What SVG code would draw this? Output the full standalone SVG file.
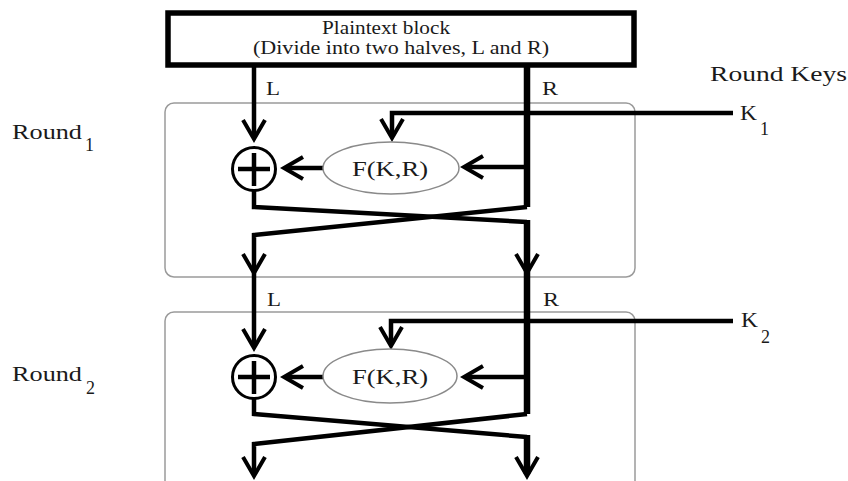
<svg xmlns="http://www.w3.org/2000/svg" width="848" height="481" viewBox="0 0 848 481">
<style>
.t{font-family:"Liberation Serif","Times New Roman",serif;fill:#1a1a1a}
.box{fill:none;stroke:#9a9a9a;stroke-width:1.5}
.ell{fill:#fff;stroke:#8a8a8a;stroke-width:1.5}
.ln{fill:none;stroke:#000;stroke-width:4.5;stroke-linejoin:miter}
.thick{fill:none;stroke:#000;stroke-width:6.5}
.arr{marker-end:url(#arr)}
.xc{fill:#fff;stroke:#000;stroke-width:3}
.xp{stroke:#000;stroke-width:4.5}
</style>
<defs>
<marker id="arr" markerUnits="userSpaceOnUse" viewBox="-24 -16 32 32" markerWidth="32" markerHeight="32" refX="0" refY="0" orient="auto" overflow="visible">
<path d="M-17,-11 L2,0 L-17,11" fill="none" stroke="#000" stroke-width="4"/>
</marker>
</defs>
<rect width="848" height="481" fill="#fff"/>

<g id="plaintext">
<rect x="168" y="13" width="466" height="52" fill="#fff" stroke="#000" stroke-width="5.5"/>
<text class="t" x="322" y="34" font-size="18" textLength="128" lengthAdjust="spacingAndGlyphs">Plaintext block</text>
<text class="t" x="253" y="54" font-size="18" textLength="296" lengthAdjust="spacingAndGlyphs">(Divide into two halves, L and R)</text>
</g>

<g id="round1">
<rect class="box" x="165" y="103" width="470" height="174" rx="9"/>
<text class="t" x="12" y="139" font-size="20" textLength="70" lengthAdjust="spacingAndGlyphs">Round</text>
<text class="t" x="85" y="151" font-size="18">1</text>
</g>
<g id="round2">
<rect class="box" x="165" y="312" width="470" height="190" rx="9"/>
<text class="t" x="12" y="381" font-size="20" textLength="70" lengthAdjust="spacingAndGlyphs">Round</text>
<text class="t" x="86" y="394" font-size="18">2</text>
</g>

<g id="keys">
<text class="t" x="710" y="81" font-size="20" textLength="137" lengthAdjust="spacingAndGlyphs">Round Keys</text>
<text class="t" x="740" y="120" font-size="20" textLength="17" lengthAdjust="spacingAndGlyphs">K</text>
<text class="t" x="760" y="135" font-size="18">1</text>
<text class="t" x="741" y="327" font-size="20" textLength="17" lengthAdjust="spacingAndGlyphs">K</text>
<text class="t" x="761" y="343" font-size="18">2</text>
</g>

<g id="labels">
<text class="t" x="266" y="95" font-size="19" textLength="14" lengthAdjust="spacingAndGlyphs">L</text>
<text class="t" x="542" y="95" font-size="19" textLength="16" lengthAdjust="spacingAndGlyphs">R</text>
<text class="t" x="267" y="306" font-size="19" textLength="14" lengthAdjust="spacingAndGlyphs">L</text>
<text class="t" x="543" y="306" font-size="19" textLength="16" lengthAdjust="spacingAndGlyphs">R</text>
</g>

<g id="connectors">
<!-- round 1 -->
<path class="ln arr" d="M254,66 V137"/>
<path class="thick" d="M527,66 V207"/>
<path class="ln arr" d="M733,113 H392 V136"/>
<path class="ln arr" d="M527,167 H466"/>
<path class="ln arr" d="M323,168 H286"/>
<path class="ln" d="M254,190 V207 L527,222"/>
<path class="thick arr" d="M527,220 V271"/>
<path class="ln arr" d="M527,207 L254,235 V271"/>
<!-- between rounds -->
<path class="ln arr" d="M254,271 V346"/>
<path class="thick" d="M527,271 V414"/>
<!-- round 2 -->
<path class="ln arr" d="M733,321 H391 V344"/>
<path class="ln arr" d="M527,377 H466"/>
<path class="ln arr" d="M323,377 H286"/>
<path class="ln" d="M254,398 V414 L527,437"/>
<path class="thick arr" d="M527,435 V474"/>
<path class="ln arr" d="M527,414 L254,444 V474"/>
</g>

<g id="xor1">
<circle class="xc" cx="254" cy="169" r="21.5"/>
<path class="xp" d="M238,169 H270 M254,153 V186"/>
</g>
<g id="f1">
<ellipse class="ell" cx="391" cy="168" rx="68" ry="26"/>
<text class="t" x="352" y="176" font-size="20" textLength="76" lengthAdjust="spacingAndGlyphs">F(K,R)</text>
</g>
<g id="xor2">
<circle class="xc" cx="254" cy="377" r="21.5"/>
<path class="xp" d="M238,377 H270 M254,361 V394"/>
</g>
<g id="f2">
<ellipse class="ell" cx="390" cy="376" rx="67" ry="27"/>
<text class="t" x="352" y="384" font-size="20" textLength="76" lengthAdjust="spacingAndGlyphs">F(K,R)</text>
</g>
</svg>
